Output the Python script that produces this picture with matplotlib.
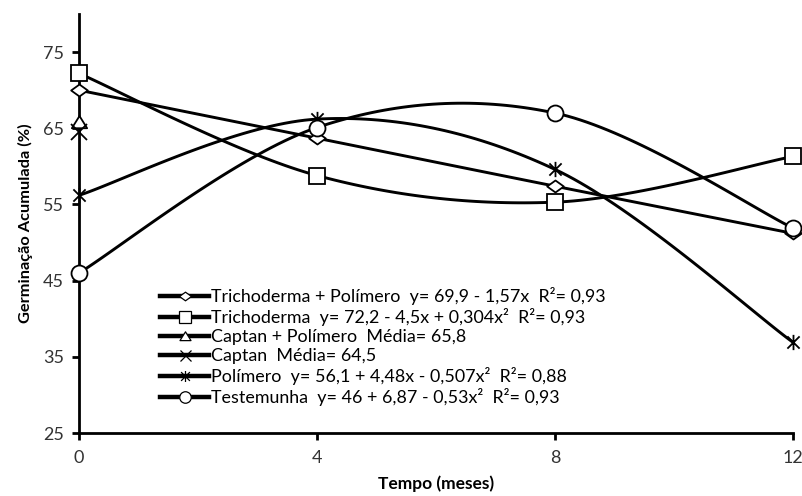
import numpy as np
import matplotlib
matplotlib.use("Agg")
import matplotlib.pyplot as plt
from matplotlib.lines import Line2D
from matplotlib.path import Path

plt.rcParams['font.family'] = ['Lato', 'DejaVu Sans']

tempo = [0, 4, 8, 12]
trich_pol = [70.0, 63.7, 57.4, 51.2]
trich = [72.2, 58.8, 55.3, 61.3]
captan_pol = [65.8]
captan = [64.5]
polimero = [56.2, 66.2, 59.6, 36.9]
testemunha = [46.0, 65.1, 67.0, 51.9]

labels = [
    "Trichoderma + Polímero  y= 69,9 - 1,57x  R²= 0,93",
    "Trichoderma  y= 72,2 - 4,5x + 0,304x²  R²= 0,93",
    "Captan + Polímero  Média= 65,8",
    "Captan  Média= 64,5",
    "Polímero  y= 56,1 + 4,48x - 0,507x²  R²= 0,88",
    "Testemunha  y= 46 + 6,87 - 0,53x²  R²= 0,93",
]

wide_diamond = Path([(-1, 0), (0, 0.72), (1, 0), (0, -0.72), (-1, 0)],
                    [Path.MOVETO, Path.LINETO, Path.LINETO, Path.LINETO, Path.CLOSEPOLY])
tri = Path([(-1, -0.75), (0, 0.85), (1, -0.75), (-1, -0.75)],
           [Path.MOVETO, Path.LINETO, Path.LINETO, Path.CLOSEPOLY])
star = Path([(-1, -1), (1, 1), (-1, 1), (1, -1), (0, -1.25), (0, 1.25)],
            [Path.MOVETO, Path.LINETO, Path.MOVETO, Path.LINETO, Path.MOVETO, Path.LINETO])

markers = [wide_diamond, 's', tri, 'x', star, 'o']
msizes = [12, 11.5, 11, 11, 11, 11.5]


def smooth(xs, ys, n=40):
    p = np.column_stack([xs, ys]).astype(float)
    ext = np.vstack([p[0], p, p[-1]])
    out = []
    t = np.linspace(0, 1, n)[:, None]
    for i in range(len(p) - 1):
        p0 = ext[i + 1]
        p3 = ext[i + 2]
        c1 = p0 + (ext[i + 2] - ext[i]) / 6.0
        c2 = p3 - (ext[i + 3] - ext[i + 1]) / 6.0
        seg = ((1 - t) ** 3) * p0 + 3 * ((1 - t) ** 2) * t * c1 + 3 * (1 - t) * t ** 2 * c2 + t ** 3 * p3
        out.append(seg if i == 0 else seg[1:])
    s = np.vstack(out)
    return s[:, 0], s[:, 1]


fig = plt.figure(figsize=(8.03, 4.96), dpi=100)
ax = fig.add_axes([79 / 803, 63 / 496, (793 - 79) / 803, (433 - 14) / 496])

series = [trich_pol, trich, captan_pol, captan, polimero, testemunha]
for ys, m, ms in zip(series, markers, msizes):
    xs = tempo[:len(ys)]
    if len(ys) > 1:
        sx, sy = smooth(xs, ys)
        ax.plot(sx, sy, color='black', lw=2.1, zorder=2, solid_capstyle='round')
    ax.plot(xs, ys, linestyle='none', marker=m, ms=ms, mfc='white',
            mec='black', mew=1.3, zorder=3, clip_on=False)

handles = []
for m, ms in zip(markers, msizes):
    handles.append(Line2D([0], [0], color='black', lw=3.2, marker=m, ms=ms * 0.72,
                          mfc='white', mec='black', mew=0.9))
leg = fig.legend(handles, labels, loc='upper left', bbox_to_anchor=(160 / 803, 1 - 287 / 496),
                 frameon=False, fontsize=12.9, handlelength=2.75, handletextpad=0.1,
                 labelspacing=0.17, borderpad=0, borderaxespad=0)

ax.set_xlim(0, 12)
ax.set_ylim(25, 80)
ax.set_xticks(tempo)
ax.set_yticks([25, 35, 45, 55, 65, 75])
ax.spines['top'].set_visible(False)
ax.spines['right'].set_visible(False)
ax.spines['left'].set_linewidth(2.0)
ax.spines['bottom'].set_linewidth(2.0)
ax.tick_params(axis='both', direction='out', width=2.0, length=5, labelsize=13,
               labelcolor='#333333')
ax.tick_params(axis='x', pad=7)
ax.tick_params(axis='y', pad=6)
ax.set_xlabel('Tempo (meses)', fontsize=12.5, fontweight='bold', labelpad=7)
ax.set_ylabel('Germinação Acumulada (%)', fontsize=11.8, fontweight='bold', labelpad=7)

fig.savefig('out.png', dpi=100)
